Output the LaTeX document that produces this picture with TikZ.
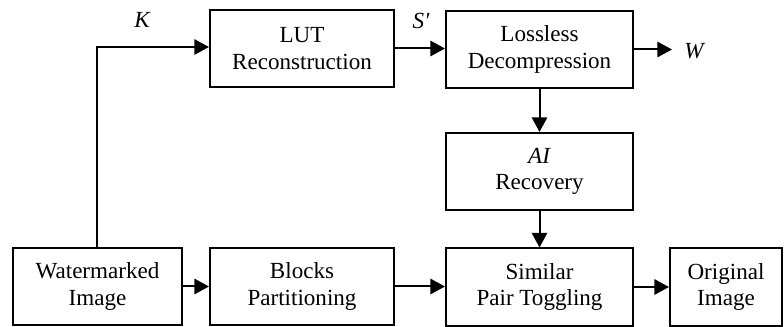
\documentclass[tikz,border=0pt]{standalone}
\usepackage{fontspec}
\setmainfont{Liberation Serif}
\newfontfamily\labelfont{Liberation Serif}
\usetikzlibrary{arrows.meta,positioning}

\tikzset{
    blockbox/.style={draw, line width=1.5pt, minimum height=57.75pt, align=center,
        inner sep=0pt, font=\labelfont\fontsize{17.3}{20}\selectfont},
    flow/.style={line width=1.5pt, -{Triangle[length=11pt,width=11.5pt]}},
    sig/.style={font=\labelfont\fontsize{17.3}{20}\selectfont\itshape}
}

\begin{document}
\begin{tikzpicture}[x=0.75pt,y=-0.75pt]
        \useasboundingbox (0,0) rectangle (784,327);

        % Upper row
        \node[blockbox, minimum width=138pt] (lut) at (302,48.5) {LUT\\Reconstruction};
        \node[blockbox, minimum width=140.25pt] (dec) at (539.5,49.5) {Lossless\\Decompression};
        \node[blockbox, minimum width=140.25pt] (ai) at (539.5,171.5) {\textit{AI}\\Recovery};

        % Lower row
        \node[blockbox, minimum width=126.75pt] (wm) at (97.5,286.5) {Watermarked\\Image};
        \node[blockbox, minimum width=138pt] (blk) at (302,286.5) {Blocks\\Partitioning};
        \node[blockbox, minimum width=140.25pt] (spt) at (539.5,287) {Similar\\Pair Toggling};
        \node[blockbox, minimum width=84pt] (orig) at (726,287) {Original\\Image};

        % Key path from the watermarked image
        \coordinate (kbend) at (97,47);
        \draw[flow] (wm.north -| kbend) -- (kbend) -- (kbend -| lut.west);
        \node[sig] (klab) at (142,20) {K};

        % Remaining arrows
        \draw[flow] (lut.east) -- (lut.east -| dec.west);
        \node[sig] (slab) at (421,21) {S′};
        \coordinate (wend) at (672,49.5);
        \draw[flow] (dec.east) -- (wend);
        \node[sig] (wlab) at (694,51) {W};
        \draw[flow] (dec.south) -- (ai.north);
        \draw[flow] (ai.south) -- (spt.north);
        \draw[flow] (wm.east) -- (wm.east -| blk.west);
        \draw[flow] (blk.east) -- (blk.east -| spt.west);
        \draw[flow] (spt.east) -- (spt.east -| orig.west);
\end{tikzpicture}
\end{document}
